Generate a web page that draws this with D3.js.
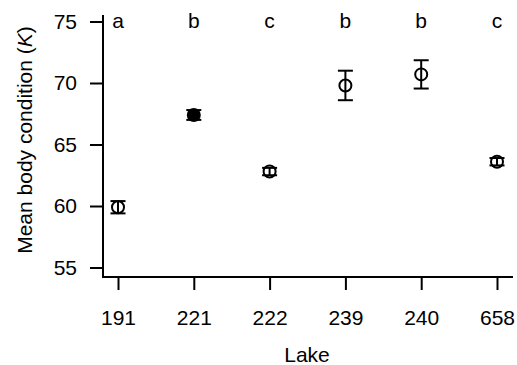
<!DOCTYPE html>
<html lang="en">
<head>
<meta charset="UTF-8">
<title>Body condition by lake</title>
<script src="https://cdn.jsdelivr.net/npm/d3@7/dist/d3.min.js"></script>
<style>
  body { margin: 0; background: #fff; }
  svg text { font-family: "Liberation Sans", Arial, Helvetica, sans-serif; fill: #000; }
</style>
</head>
<body>
<svg width="517" height="365" id="main"></svg>
<script>
    const lakes = ["191", "221", "222", "239", "240", "658"];
    const means = [59.9, 67.4, 62.8, 69.8, 70.7, 63.6];
    const errors = [0.5, 0.4, 0.3, 1.2, 1.15, 0.3];
    const filled = [false, true, false, false, false, false];
    const groups = ["a", "b", "c", "b", "b", "c"];
    const yTicks = [55, 60, 65, 70, 75];

    const data = lakes.map((l, i) => ({lake: l, mean: means[i], se: errors[i], filled: filled[i], grp: groups[i]}));

    const svg = d3.select("#main");
    const plot = {left: 103, right: 513, top: 15, bottom: 277};
    const fs = "21px";

    const x = d3.scalePoint().domain(lakes).range([118, 497]);
    const y = d3.scaleLinear().domain([55, 75]).range([267.5, 21.5]);

    // L-shaped frame
    svg.append("path")
        .attr("d", `M${plot.left},${plot.top}V${plot.bottom}H${plot.right}`)
        .attr("fill", "none").attr("stroke", "#000").attr("stroke-width", 2);

    svg.append("g")
        .attr("transform", `translate(${plot.left},0)`)
        .call(d3.axisLeft(y).tickValues(yTicks).tickSize(13).tickPadding(13))
        .call(g => g.select(".domain").remove())
        .call(g => g.selectAll(".tick line").attr("stroke-width", 2))
        .call(g => g.selectAll(".tick text").attr("font-size", fs).attr("font-family", null));

    svg.append("g")
        .attr("transform", `translate(0,${plot.bottom})`)
        .call(d3.axisBottom(x).tickSize(13).tickPadding(20))
        .call(g => g.select(".domain").remove())
        .call(g => g.selectAll(".tick line").attr("stroke-width", 2))
        .call(g => g.selectAll(".tick text").attr("font-size", fs).attr("font-family", null));

    // axis titles
    svg.append("text")
        .attr("x", 307).attr("y", 362)
        .attr("text-anchor", "middle").attr("font-size", fs)
        .text("Lake");

    const yl = svg.append("text")
        .attr("transform", "translate(32,140) rotate(-90)")
        .attr("text-anchor", "middle").attr("font-size", fs);
    yl.append("tspan").text("Mean body condition (");
    yl.append("tspan").attr("font-style", "italic").text("K");
    yl.append("tspan").text(")");

    // error bars
    const eb = svg.append("g").attr("stroke", "#000").attr("stroke-width", 2);
    eb.selectAll("line.v").data(data).join("line")
        .attr("x1", d => x(d.lake)).attr("x2", d => x(d.lake))
        .attr("y1", d => y(d.mean + d.se)).attr("y2", d => y(d.mean - d.se));
    eb.selectAll("line.t").data(data).join("line")
        .attr("x1", d => x(d.lake) - 7.5).attr("x2", d => x(d.lake) + 7.5)
        .attr("y1", d => y(d.mean + d.se)).attr("y2", d => y(d.mean + d.se));
    eb.selectAll("line.b").data(data).join("line")
        .attr("x1", d => x(d.lake) - 7.5).attr("x2", d => x(d.lake) + 7.5)
        .attr("y1", d => y(d.mean - d.se)).attr("y2", d => y(d.mean - d.se));

    // points
    svg.append("g").selectAll("circle").data(data).join("circle")
        .attr("cx", d => x(d.lake)).attr("cy", d => y(d.mean)).attr("r", 6)
        .attr("fill", d => d.filled ? "#000" : "none")
        .attr("stroke", "#000").attr("stroke-width", 2);

    // group letters
    svg.append("g").selectAll("text").data(data).join("text")
        .attr("x", d => x(d.lake)).attr("y", 28)
        .attr("text-anchor", "middle").attr("font-size", fs)
        .text(d => d.grp);
</script>
</body>
</html>
